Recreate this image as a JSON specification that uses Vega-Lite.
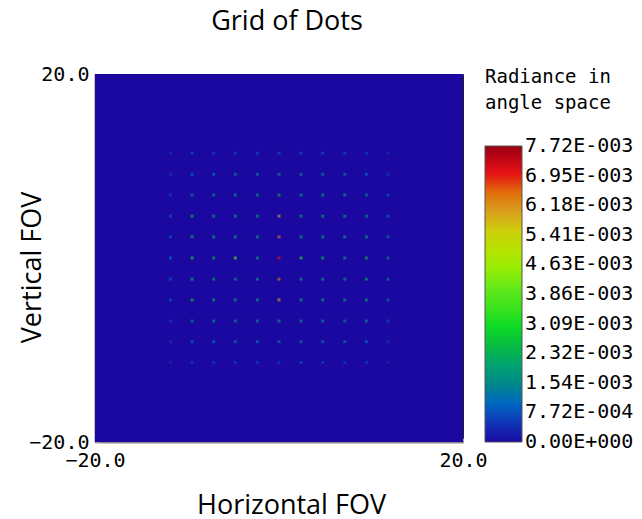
{
  "$schema": "https://vega.github.io/schema/vega-lite/v6.json",
  "width": 368,
  "height": 368,
  "autosize": {"type": "none"},
  "padding": {"left": 95, "top": 74, "right": 179, "bottom": 77},
  "background": "white",
  "title": {"text": "Grid of Dots", "font": "Open Sans", "fontSize": 27, "fontWeight": "normal", "color": "#000", "anchor": "middle", "dx": 8, "offset": 28},
  "config": {"view": {"stroke": "#222", "strokeWidth": 1}},
  "datasets": {
    "bg": [{"x": -20, "x2": 20, "y": -20, "y2": 20, "v": 0}],
    "dots": [
      {"x": -11.8, "y": 11.4, "v": 0.0005}, {"x": -9.45, "y": 11.4, "v": 0.0009}, {"x": -7.1, "y": 11.4, "v": 0.0008}, {"x": -4.75, "y": 11.4, "v": 0.0009}, {"x": -2.35, "y": 11.4, "v": 0.0009}, {"x": 0, "y": 11.4, "v": 0.0009}, {"x": 2.4, "y": 11.4, "v": 0.0009}, {"x": 4.75, "y": 11.4, "v": 0.0009}, {"x": 7.15, "y": 11.4, "v": 0.0009}, {"x": 9.5, "y": 11.4, "v": 0.0008}, {"x": 11.85, "y": 11.4, "v": 0.0005},
      {"x": -11.8, "y": 9.1, "v": 0.0006}, {"x": -9.45, "y": 9.1, "v": 0.0011}, {"x": -7.1, "y": 9.1, "v": 0.0012}, {"x": -4.75, "y": 9.1, "v": 0.0015}, {"x": -2.35, "y": 9.1, "v": 0.0015}, {"x": 0, "y": 9.1, "v": 0.0016}, {"x": 2.4, "y": 9.1, "v": 0.0016}, {"x": 4.75, "y": 9.1, "v": 0.0015}, {"x": 7.15, "y": 9.1, "v": 0.0014}, {"x": 9.5, "y": 9.1, "v": 0.0011}, {"x": 11.85, "y": 9.1, "v": 0.0006},
      {"x": -11.8, "y": 6.85, "v": 0.0008}, {"x": -9.45, "y": 6.85, "v": 0.0016}, {"x": -7.1, "y": 6.85, "v": 0.0016}, {"x": -4.75, "y": 6.85, "v": 0.0018}, {"x": -2.35, "y": 6.85, "v": 0.0019}, {"x": 0, "y": 6.85, "v": 0.0024}, {"x": 2.4, "y": 6.85, "v": 0.0019}, {"x": 4.75, "y": 6.85, "v": 0.0019}, {"x": 7.15, "y": 6.85, "v": 0.0018}, {"x": 9.5, "y": 6.85, "v": 0.0015}, {"x": 11.85, "y": 6.85, "v": 0.001},
      {"x": -11.8, "y": 4.55, "v": 0.001}, {"x": -9.45, "y": 4.55, "v": 0.0026}, {"x": -7.1, "y": 4.55, "v": 0.0022}, {"x": -4.75, "y": 4.55, "v": 0.0021}, {"x": -2.35, "y": 4.55, "v": 0.0021}, {"x": 0, "y": 4.55, "v": 0.006}, {"x": 2.4, "y": 4.55, "v": 0.0023}, {"x": 4.75, "y": 4.55, "v": 0.0023}, {"x": 7.15, "y": 4.55, "v": 0.0021}, {"x": 9.5, "y": 4.55, "v": 0.0018}, {"x": 11.85, "y": 4.55, "v": 0.0012},
      {"x": -11.8, "y": 2.3, "v": 0.001}, {"x": -9.45, "y": 2.3, "v": 0.0025}, {"x": -7.1, "y": 2.3, "v": 0.0022}, {"x": -4.75, "y": 2.3, "v": 0.002}, {"x": -2.35, "y": 2.3, "v": 0.002}, {"x": 0, "y": 2.3, "v": 0.0064}, {"x": 2.4, "y": 2.3, "v": 0.0021}, {"x": 4.75, "y": 2.3, "v": 0.002}, {"x": 7.15, "y": 2.3, "v": 0.002}, {"x": 9.5, "y": 2.3, "v": 0.0021}, {"x": 11.85, "y": 2.3, "v": 0.0014},
      {"x": -11.8, "y": 0, "v": 0.0012}, {"x": -9.45, "y": 0, "v": 0.003}, {"x": -7.1, "y": 0, "v": 0.0024}, {"x": -4.75, "y": 0, "v": 0.004}, {"x": -2.35, "y": 0, "v": 0.0022}, {"x": 0, "y": 0, "v": 0.007}, {"x": 2.4, "y": 0, "v": 0.0032}, {"x": 4.75, "y": 0, "v": 0.0027}, {"x": 7.15, "y": 0, "v": 0.0021}, {"x": 9.5, "y": 0, "v": 0.0024}, {"x": 11.85, "y": 0, "v": 0.0016},
      {"x": -11.8, "y": -2.3, "v": 0.001}, {"x": -9.45, "y": -2.3, "v": 0.0026}, {"x": -7.1, "y": -2.3, "v": 0.0022}, {"x": -4.75, "y": -2.3, "v": 0.002}, {"x": -2.35, "y": -2.3, "v": 0.002}, {"x": 0, "y": -2.3, "v": 0.0064}, {"x": 2.4, "y": -2.3, "v": 0.0021}, {"x": 4.75, "y": -2.3, "v": 0.0021}, {"x": 7.15, "y": -2.3, "v": 0.002}, {"x": 9.5, "y": -2.3, "v": 0.0022}, {"x": 11.85, "y": -2.3, "v": 0.0015},
      {"x": -11.8, "y": -4.55, "v": 0.001}, {"x": -9.45, "y": -4.55, "v": 0.0028}, {"x": -7.1, "y": -4.55, "v": 0.0023}, {"x": -4.75, "y": -4.55, "v": 0.0022}, {"x": -2.35, "y": -4.55, "v": 0.002}, {"x": 0, "y": -4.55, "v": 0.006}, {"x": 2.4, "y": -4.55, "v": 0.0022}, {"x": 4.75, "y": -4.55, "v": 0.0022}, {"x": 7.15, "y": -4.55, "v": 0.0021}, {"x": 9.5, "y": -4.55, "v": 0.0022}, {"x": 11.85, "y": -4.55, "v": 0.0013},
      {"x": -11.8, "y": -6.85, "v": 0.0008}, {"x": -9.45, "y": -6.85, "v": 0.0016}, {"x": -7.1, "y": -6.85, "v": 0.0017}, {"x": -4.75, "y": -6.85, "v": 0.0018}, {"x": -2.35, "y": -6.85, "v": 0.0017}, {"x": 0, "y": -6.85, "v": 0.002}, {"x": 2.4, "y": -6.85, "v": 0.0019}, {"x": 4.75, "y": -6.85, "v": 0.0017}, {"x": 7.15, "y": -6.85, "v": 0.0016}, {"x": 9.5, "y": -6.85, "v": 0.0015}, {"x": 11.85, "y": -6.85, "v": 0.0009},
      {"x": -11.8, "y": -9.1, "v": 0.0006}, {"x": -9.45, "y": -9.1, "v": 0.0012}, {"x": -7.1, "y": -9.1, "v": 0.0012}, {"x": -4.75, "y": -9.1, "v": 0.0013}, {"x": -2.35, "y": -9.1, "v": 0.0012}, {"x": 0, "y": -9.1, "v": 0.0013}, {"x": 2.4, "y": -9.1, "v": 0.0013}, {"x": 4.75, "y": -9.1, "v": 0.0012}, {"x": 7.15, "y": -9.1, "v": 0.0013}, {"x": 9.5, "y": -9.1, "v": 0.0011}, {"x": 11.85, "y": -9.1, "v": 0.0006},
      {"x": -11.8, "y": -11.35, "v": 0.0004}, {"x": -9.45, "y": -11.35, "v": 0.0008}, {"x": -7.1, "y": -11.35, "v": 0.0008}, {"x": -4.75, "y": -11.35, "v": 0.0008}, {"x": -2.35, "y": -11.35, "v": 0.0008}, {"x": 0, "y": -11.35, "v": 0.0008}, {"x": 2.4, "y": -11.35, "v": 0.0009}, {"x": 4.75, "y": -11.35, "v": 0.0008}, {"x": 7.15, "y": -11.35, "v": 0.0008}, {"x": 9.5, "y": -11.35, "v": 0.0008}, {"x": 11.85, "y": -11.35, "v": 0.0004}
    ]
  },
  "layer": [
    {
      "data": {"name": "bg"},
      "mark": {"type": "rect"},
      "encoding": {
        "x": {"field": "x", "type": "quantitative", "title": "Horizontal FOV",
          "scale": {"domain": [-20, 20], "nice": false, "zero": false},
          "axis": {"values": [-20, -16, -12, -8, -4, 0, 4, 8, 12, 16, 20],
            "labelExpr": "datum.value == 0 ? '0' : (abs(datum.value) == 20 ? format(datum.value, '.1f') : '')",
            "labelFont": "DejaVu Sans Mono", "labelFontSize": 20, "labelColor": "#000", "labelPadding": 12, "labelOverlap": false, "labelFlush": false,
            "tickSize": -4, "tickColor": "#aaaaaa", "tickWidth": 1,
            "domainColor": "#8a8a8a", "domainWidth": 2, "grid": false,
            "titleFont": "Open Sans", "titleFontSize": 27, "titleFontWeight": "normal", "titleColor": "#000",
            "titleX": 196, "titleY": 63, "titleBaseline": "middle", "titleAlign": "center"}},
        "x2": {"field": "x2"},
        "y": {"field": "y", "type": "quantitative", "title": "Vertical FOV",
          "scale": {"domain": [-20, 20], "nice": false, "zero": false},
          "axis": {"values": [-20, -16, -12, -8, -4, 0, 4, 8, 12, 16, 20],
            "labelExpr": "datum.value == 0 ? '0' : (abs(datum.value) == 20 ? format(datum.value, '.1f') : '')",
            "labelFont": "DejaVu Sans Mono", "labelFontSize": 20, "labelColor": "#000", "labelPadding": 10, "labelOverlap": false, "labelFlush": false,
            "tickSize": -4, "tickColor": "#aaaaaa", "tickWidth": 1,
            "domainColor": "#8a8a8a", "domainWidth": 2, "grid": false,
            "titleFont": "Open Sans", "titleFontSize": 27, "titleFontWeight": "normal", "titleColor": "#000",
            "titleX": -63, "titleY": 193, "titleAngle": -90, "titleBaseline": "middle", "titleAlign": "center"}},
        "y2": {"field": "y2"},
        "color": {"field": "v", "type": "quantitative",
          "scale": {"domain": [0, 0.000772, 0.00154, 0.00232, 0.00309, 0.00386, 0.00463, 0.00541, 0.00618, 0.00695, 0.00772],
            "range": ["#1a08a0", "#1048c4", "#1c8a88", "#12b048", "#12e018", "#50e620", "#a0ee00", "#c8d810", "#d89028", "#ec1414", "#9c0012"]},
          "legend": {"orient": "none", "legendX": 390, "legendY": -6, "direction": "vertical", "type": "gradient",
            "title": ["Radiance in", "angle space"], "titleFont": "DejaVu Sans Mono", "titleFontSize": 19, "titleFontWeight": "normal", "titleColor": "#000", "titleLineHeight": 26, "titlePadding": 33, "titleLimit": 300,
            "values": [0, 0.000772, 0.00154, 0.00232, 0.00309, 0.00386, 0.00463, 0.00541, 0.00618, 0.00695, 0.00772],
            "labelExpr": "datum.value == 0 ? '0.00E+000' : (datum.value < 0.001 ? '7.72E-004' : format(datum.value * 1000, '.2f') + 'E-003')",
            "labelFont": "DejaVu Sans Mono", "labelFontSize": 20, "labelColor": "#000", "labelOffset": 3, "labelBaseline": "middle", "labelOverlap": false, "labelLimit": 300,
            "gradientLength": 296, "gradientThickness": 37, "gradientStrokeColor": "#555", "gradientStrokeWidth": 1,
            "encode": {"labels": {"update": {"baseline": {"value": "middle"}}}, "gradient": {"update": {"opacity": {"value": 1}}}}}}
      }
    },
    {
      "data": {"name": "dots"},
      "mark": {"type": "square", "size": 9, "opacity": 0.6},
      "encoding": {
        "x": {"field": "x", "type": "quantitative"},
        "y": {"field": "y", "type": "quantitative"},
        "color": {"field": "v", "type": "quantitative"}
      }
    }
  ]
}
